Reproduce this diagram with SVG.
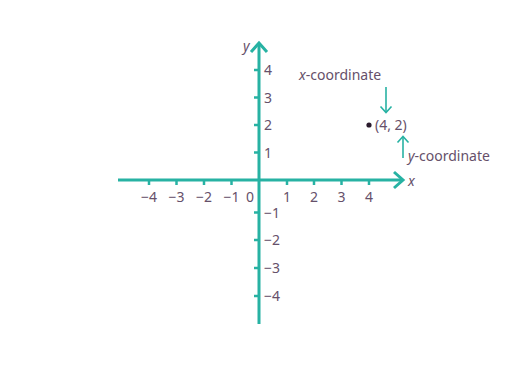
<svg xmlns="http://www.w3.org/2000/svg" width="530" height="366" viewBox="0 0 530 366">
<style>
.ax{stroke:#27b2a3;stroke-width:3;fill:none;stroke-linecap:butt}
.tk{stroke:#27b2a3;stroke-width:2.5;fill:none}
.ar{stroke:#27b2a3;stroke-width:1.6;fill:none}
.ah{stroke:#27b2a3;stroke-width:1.6;fill:none;stroke-linejoin:miter}
text{font-family:"Noto Sans","Open Sans",sans-serif;font-size:14px;fill:#66506a}
.xl{text-anchor:middle}
.it{font-style:italic}
</style>
<rect width="530" height="366" fill="#ffffff"/>
<g id="connectors">
  <line class="ax" x1="118" y1="180" x2="402" y2="180"/>
  <polyline class="ax" points="394,172 403,180 394,188"/>
  <line class="ax" x1="259" y1="324" x2="259" y2="44"/>
  <polyline class="ax" points="251,52 259,43 267,52"/>
  <g class="tk">
    <line x1="149" y1="180" x2="149" y2="185"/>
    <line x1="176.5" y1="180" x2="176.5" y2="185"/>
    <line x1="204" y1="180" x2="204" y2="185"/>
    <line x1="231.5" y1="180" x2="231.5" y2="185"/>
    <line x1="287" y1="180" x2="287" y2="185"/>
    <line x1="314" y1="180" x2="314" y2="185"/>
    <line x1="341.5" y1="180" x2="341.5" y2="185"/>
    <line x1="369" y1="180" x2="369" y2="185"/>
  </g>
  <g class="tk">
    <line x1="254" y1="70" x2="259" y2="70"/>
    <line x1="254" y1="97.5" x2="259" y2="97.5"/>
    <line x1="254" y1="125" x2="259" y2="125"/>
    <line x1="254" y1="152.5" x2="259" y2="152.5"/>
    <line x1="254" y1="212.5" x2="259" y2="212.5"/>
    <line x1="254" y1="240" x2="259" y2="240"/>
    <line x1="254" y1="268" x2="259" y2="268"/>
    <line x1="254" y1="296" x2="259" y2="296"/>
  </g>
  <line class="ar" x1="386" y1="87" x2="386" y2="112"/>
  <polyline class="ah" points="380.5,106.5 386,112.5 391.5,106.5"/>
  <line class="ar" x1="403" y1="158" x2="403" y2="137"/>
  <polyline class="ah" points="397.5,142.5 403,136.5 408.5,142.5"/>
</g>
<g id="x-labels">
  <text class="xl" x="149" y="202">−4</text>
  <text class="xl" x="176.5" y="202">−3</text>
  <text class="xl" x="204" y="202">−2</text>
  <text class="xl" x="231.5" y="202">−1</text>
  <text class="xl" x="250" y="202">0</text>
  <text class="xl" x="287" y="202">1</text>
  <text class="xl" x="314" y="202">2</text>
  <text class="xl" x="341.5" y="202">3</text>
  <text class="xl" x="369" y="202">4</text>
</g>
<g id="y-labels">
  <text x="264" y="75">4</text>
  <text x="264" y="102.5">3</text>
  <text x="264" y="130">2</text>
  <text x="264" y="157.5">1</text>
  <text x="264" y="217.5">−1</text>
  <text x="264" y="245">−2</text>
  <text x="264" y="273">−3</text>
  <text x="264" y="301">−4</text>
</g>
<g id="axis-names">
  <text class="it" x="243" y="51">y</text>
  <text class="it" x="408" y="186">x</text>
</g>
<g id="point">
  <circle cx="369" cy="125" r="2.6" fill="#2a1a2c"/>
  <text x="375" y="130">(4, 2)</text>
</g>
<g id="x-coordinate">
  <text x="299" y="80"><tspan class="it">x</tspan>-coordinate</text>
</g>
<g id="y-coordinate">
  <text x="408" y="161"><tspan class="it">y</tspan>-coordinate</text>
</g>
</svg>
